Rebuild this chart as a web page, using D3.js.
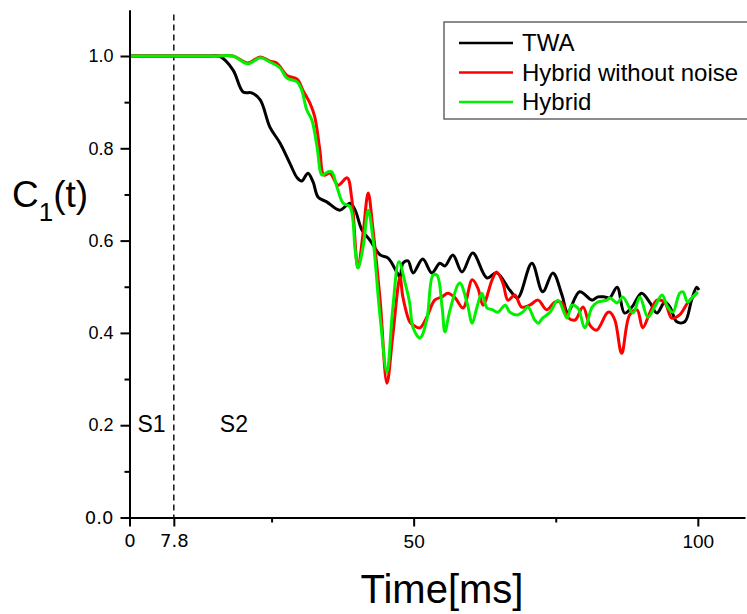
<!DOCTYPE html>
<html>
<head>
<meta charset="utf-8">
<script src="https://cdn.jsdelivr.net/npm/d3@7"></script>
<style>
	body { margin: 0; background: #fff; }
	svg { display: block; font-family: "Liberation Sans", Arial, sans-serif; }
</style>
</head>
<body>
<svg id="chart" width="747" height="614"></svg>
<script>

// series: [time (ms), C1(t)]

var seriesNames = ['TWA', 'Hybrid without noise', 'Hybrid'];
var seriesColors = ['#000000', '#ff0000', '#00f000'];

var twa = [
	[0,1.0],[5,1.0],[10,1.0],[14,1.0],[15.9,0.999],[18.2,0.970],[20.0,0.922],[21.5,0.920],[23.0,0.905],[24.7,0.846],
	[26.5,0.811],[28.2,0.768],[29.5,0.736],[30.3,0.729],[31.4,0.746],[32.3,0.727],[33.2,0.694],
	[34.7,0.684],[37.0,0.666],[38.8,0.681],[39.7,0.666],[40.9,0.623],[42.3,0.601],[44.1,0.569],
	[45.5,0.562],[47.1,0.530],[47.6,0.521],[48.1,0.551],[49.0,0.556],[49.9,0.530],[51.6,0.560],
	[53.2,0.530],[54.6,0.551],[55.5,0.545],[56.9,0.569],[58.5,0.532],[60.4,0.573],[62.9,0.519],
	[64.6,0.530],[66.9,0.493],[68.3,0.476],[70.8,0.551],[72.7,0.489],[74.5,0.530],[76.1,0.482],
	[77.1,0.445],[79.2,0.489],[81.4,0.471],[82.4,0.478],[83.6,0.478],[84.5,0.476],[85.8,0.499],
	[87.1,0.443],[88.4,0.456],[90.1,0.486],[91.6,0.465],[92.8,0.443],[94.2,0.467],[95.1,0.456],
	[96.3,0.424],[97.7,0.424],[98.9,0.471],[99.8,0.499],[100.2,0.493]
];

var hybridNoNoise = [
	[0,1.0],[5,1.0],[10,1.0],[15,1.0],[18.2,1.0],[20.8,0.985],[23.0,0.998],[24.7,0.989],[25.9,0.985],[27.7,0.958],
	[29.5,0.950],[30.5,0.926],[31.75,0.898],[32.6,0.868],[33.5,0.796],[34.2,0.742],[35.3,0.746],
	[36.7,0.720],[38.3,0.736],[39.1,0.692],[40.2,0.541],[41.1,0.616],[42.0,0.703],[42.8,0.629],
	[44.1,0.471],[45.3,0.291],[46.3,0.391],[47.6,0.521],[48.1,0.478],[49.3,0.424],[49.9,0.417],
	[51.1,0.411],[52.3,0.434],[53.7,0.471],[55.0,0.478],[56.0,0.486],[57.3,0.476],[58.7,0.454],
	[60.3,0.515],[61.3,0.497],[62.2,0.460],[63.8,0.515],[64.6,0.532],[65.7,0.508],[66.6,0.471],
	[67.8,0.482],[69.0,0.456],[70.4,0.460],[71.9,0.471],[73.4,0.450],[74.9,0.467],[76.1,0.465],
	[77.1,0.434],[78.4,0.428],[79.8,0.456],[81.0,0.417],[82.2,0.406],[84.0,0.443],[84.5,0.445],
	[85.4,0.428],[86.6,0.356],[88.0,0.439],[89.3,0.450],[90.3,0.411],[91.6,0.445],[92.8,0.471],
	[94.2,0.465],[95.4,0.432],[96.8,0.439],[98.2,0.465],[99.8,0.486]
];

var hybrid = [
	[0,1.0],[5,1.0],[10,1.0],[15,1.0],[18.2,1.0],[20.8,0.983],[23.0,0.996],[24.7,0.987],[26.5,0.974],[27.7,0.952],
	[29.5,0.944],[30.3,0.926],[31.2,0.883],[32.1,0.861],[33.0,0.803],[33.9,0.742],[34.9,0.749],
	[35.6,0.749],[36.5,0.716],[37.6,0.681],[38.8,0.673],[39.7,0.580],[40.2,0.541],[41.1,0.586],
	[42.0,0.666],[42.8,0.608],[44.1,0.434],[45.3,0.315],[46.3,0.450],[47.4,0.554],[48.5,0.508],
	[49.3,0.465],[49.9,0.411],[51.1,0.389],[52.3,0.428],[53.4,0.525],[54.1,0.525],[55.0,0.456],
	[55.5,0.402],[56.4,0.450],[58.1,0.508],[59.4,0.465],[60.3,0.421],[61.1,0.454],[62.0,0.486],
	[62.9,0.454],[63.9,0.450],[64.8,0.445],[66.1,0.460],[66.9,0.445],[68.2,0.439],[69.2,0.445],
	[70.1,0.456],[71.3,0.428],[71.9,0.421],[72.7,0.432],[74.0,0.445],[75.4,0.471],[77.0,0.432],
	[77.8,0.460],[78.9,0.454],[80.1,0.411],[81.4,0.456],[82.4,0.467],[84.0,0.471],[84.5,0.476],
	[85.8,0.465],[86.8,0.478],[88.6,0.443],[89.8,0.478],[91.2,0.434],[92.4,0.456],[93.7,0.482],
	[94.7,0.456],[95.6,0.445],[96.8,0.486],[97.4,0.489],[98.2,0.467],[99.1,0.478],[100.0,0.489]
];

var xMajorTicks = [0, 7.8, 50, 100];
var xMinorTicks = [25, 75];
var yMajorTicks = [0, 0.2, 0.4, 0.6, 0.8, 1.0];
var yMinorTicks = [0.1, 0.3, 0.5, 0.7, 0.9];
var switchTime = 7.8;
var stageLabels = [['S1', 1.4], ['S2', 15.9]];

(function() {

	var svg = d3.select('#chart');

	var x = d3.scaleLinear().domain([0, 108.3]).range([129.5, 745]);
	var y = d3.scaleLinear().domain([0, 1.1]).range([517.5, 9.85]);

	var series = [twa, hybridNoNoise, hybrid];

	// dashed marker between the two stages
	svg.append('line')
		.attr('x1', x(switchTime)).attr('x2', x(switchTime))
		.attr('y1', y(1.09)).attr('y2', y(0))
		.attr('stroke', '#000')
		.attr('stroke-width', 1.4)
		.attr('stroke-dasharray', '6,4');

	svg.selectAll('.stage')
		.data(stageLabels).enter()
		.append('text')
			.attr('class', 'stage')
			.attr('x', function(d) { return x(d[1]); })
			.attr('y', y(0.185))
			.attr('font-size', 23)
			.text(function(d) { return d[0]; });

	var line = d3.line()
		.x(function(d) { return x(d[0]); })
		.y(function(d) { return y(d[1]); })
		.curve(d3.curveCatmullRom.alpha(0.5));

	svg.selectAll('.series')
		.data(series).enter()
		.append('path')
			.attr('class', 'series')
			.attr('fill', 'none')
			.attr('stroke', function(d, i) { return seriesColors[i]; })
			.attr('stroke-width', 3)
			.attr('stroke-linejoin', 'round')
			.attr('d', line);

	// axes
	var xAxis = svg.append('g')
		.attr('transform', 'translate(0,' + y(0) + ')')
		.call(d3.axisBottom(x).tickValues(xMajorTicks).tickSize(9).tickSizeOuter(0)
			.tickPadding(8).tickFormat(function(d) { return String(d); }));

	xAxis.append('g')
		.call(d3.axisBottom(x).tickValues(xMinorTicks).tickSize(5).tickSizeOuter(0).tickFormat(''))
		.select('.domain').remove();

	var yAxis = svg.append('g')
		.attr('transform', 'translate(' + x(0) + ',0)')
		.call(d3.axisLeft(y).tickValues(yMajorTicks).tickSize(9).tickSizeOuter(0)
			.tickPadding(7).tickFormat(d3.format('.1f')));

	yAxis.append('g')
		.call(d3.axisLeft(y).tickValues(yMinorTicks).tickSize(5).tickSizeOuter(0).tickFormat(''))
		.select('.domain').remove();

	svg.selectAll('.domain, .tick line')
		.attr('stroke', '#000')
		.attr('stroke-width', 2);

	xAxis.selectAll('.tick text')
		.attr('fill', '#000')
		.attr('font-size', 19)
		.attr('font-family', '"Liberation Sans", Arial, sans-serif');
	yAxis.selectAll('.tick text')
		.attr('fill', '#000')
		.attr('font-size', 18)
		.attr('font-family', '"Liberation Sans", Arial, sans-serif');

	// the first labels were set in another face in the original
	xAxis.selectAll('.tick text')
		.filter(function(d) { return d < 10; })
		.attr('font-family', '"DejaVu Sans", sans-serif')
		.attr('font-size', 18);
	yAxis.selectAll('.tick text')
		.filter(function(d) { return d == 0; })
		.attr('font-family', '"DejaVu Sans", sans-serif')
		.attr('font-size', 18);

	// axis titles
	svg.append('text')
		.attr('x', 442)
		.attr('y', 603)
		.attr('text-anchor', 'middle')
		.attr('font-size', 40)
		.text('Time[ms]');

	var ylab = svg.append('text')
		.attr('x', 12)
		.attr('y', 207)
		.attr('font-size', 37);
	ylab.append('tspan').text('C');
	ylab.append('tspan').attr('font-size', 26).attr('dy', 14).text('1');
	ylab.append('tspan').attr('dy', -14).text('(t)');

	// legend
	var legend = svg.append('g').attr('class', 'legend');

	legend.append('rect')
		.attr('x', 444).attr('y', 22)
		.attr('width', 320).attr('height', 97)
		.attr('fill', '#fff')
		.attr('stroke', '#666')
		.attr('stroke-width', 1.5);

	var rows = legend.selectAll('.row')
		.data(seriesNames).enter()
		.append('g')
			.attr('class', 'row')
			.attr('transform', function(d, i) { return 'translate(0,' + (43 + i * 29.5) + ')'; });

	rows.append('line')
		.attr('x1', 459).attr('x2', 513)
		.attr('stroke', function(d, i) { return seriesColors[i]; })
		.attr('stroke-width', 2.5);

	rows.append('text')
		.attr('x', 522)
		.attr('y', 8)
		.attr('font-size', 24)
		.text(function(d) { return d; });

})();
</script>
</body>
</html>
